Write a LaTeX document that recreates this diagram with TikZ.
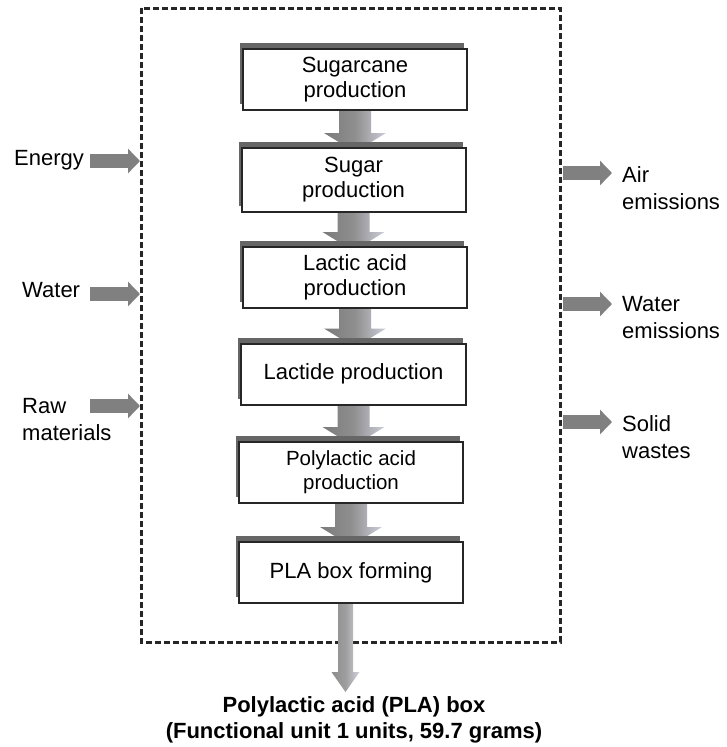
\documentclass[tikz,border=0pt]{standalone}
\usepackage{fontspec}
\setmainfont{Liberation Sans}
\usetikzlibrary{shadows,backgrounds,calc,arrows.meta}

\tikzset{
  stage/.style={draw=black!85, line width=2pt, fill=white,
    minimum width=224pt, minimum height=61pt, align=center, inner sep=2pt,
    font=\fontsize{22}{25}\selectfont,
    general shadow={fill=black!60, shadow xshift=-3pt, shadow yshift=6pt}},
  sidelabel/.style={align=left, inner sep=0pt, anchor=west,
    font=\fontsize{22}{27}\selectfont},
  sidearrow/.style={draw=black!50, line width=14pt,
    -{Triangle[width=24pt,length=12pt]}},
  frame/.style={draw=black!85, line width=3pt, dash pattern=on 6pt off 3pt},
  flowshade/.style={left color=black!52, right color={rgb,255:red,205;green,205;blue,218},
    middle color=black!44},
  outshade/.style={left color=black!45, right color={rgb,255:red,210;green,210;blue,222},
    middle color=black!38},
}

% thick shaded arrow from the bottom of one stage to the top of the next
\newcommand\flowarrow[2]{%
  \shade[flowshade] let \p1=(#1.south), \p2=(#2.north) in
    (\x1-16pt,\y1) -- (\x1+16pt,\y1) -- (\x1+16pt,\y2+14pt) -- (\x1+31pt,\y2+14pt)
    -- (\x1,\y2-5pt) -- (\x1-31pt,\y2+14pt) -- (\x1-16pt,\y2+14pt) -- cycle;}

\begin{document}
\begin{tikzpicture}[x=1pt,y=1pt]
\useasboundingbox (0,0) rectangle (726,-747);

% system boundary
\draw[frame] (141,-8) rectangle (560,-642);

% process stages
\node[stage] (cane)    at (355,-79.5)  {Sugarcane\\production};
\node[stage, minimum height=64pt] (sugar) at (353.5,-180) {Sugar\\production};
\node[stage] (lactic)  at (355,-277.5) {Lactic acid\\production};
\node[stage, minimum width=225pt] (lactide) at (353.5,-374) {Lactide production};
\node[stage, font=\fontsize{20.5}{24}\selectfont] (pla) at (351,-472.5) {Polylactic acid\\production};
\node[stage] (forming) at (351,-572.5) {PLA box forming};

\begin{pgfonlayer}{background}
  \flowarrow{cane}{sugar}
  \flowarrow{sugar}{lactic}
  \flowarrow{lactic}{lactide}
  \flowarrow{lactide}{pla}
  \flowarrow{pla}{forming}
\end{pgfonlayer}

% final product
\coordinate (product) at (345.5,-692);
\shade[outshade] let \p1=(forming.south), \p2=(product) in
  (\x2-7.5pt,\y1) -- (\x2+7.5pt,\y1) -- (\x2+7.5pt,\y2+20pt) -- (\x2+14pt,\y2+20pt)
  -- (\x2,\y2) -- (\x2-14pt,\y2+20pt) -- (\x2-7.5pt,\y2+20pt) -- cycle;
\node[font=\bfseries\fontsize{22}{26}\selectfont, align=center] (outtext) at (354,-720)
  {Polylactic acid (PLA) box\\(Functional unit 1 units, 59.7 grams)};

% inputs
\node[sidelabel] (energy) at (14,-160) {Energy};
\node[sidelabel] (water)  at (22,-290) {Water};
\node[sidelabel] (raw)    at (22,-420) {Raw\\materials};
\coordinate (energyA) at (90,-161);   \coordinate (energyB) at (140,-161);
\coordinate (waterA)  at (90,-294);   \coordinate (waterB)  at (140,-294);
\coordinate (rawA)    at (90,-406);   \coordinate (rawB)    at (140,-406);
\draw[sidearrow] (energyA) -- (energyB);
\draw[sidearrow] (waterA) -- (waterB);
\draw[sidearrow] (rawA) -- (rawB);

% outputs
\node[sidelabel] (air)   at (622,-188) {Air\\emissions};
\node[sidelabel] (wem)   at (622,-318) {Water\\emissions};
\node[sidelabel] (solid) at (622,-437) {Solid\\wastes};
\coordinate (airA)   at (563,-173); \coordinate (airB)   at (612,-173);
\coordinate (wemA)   at (563,-304); \coordinate (wemB)   at (612,-304);
\coordinate (solidA) at (563,-422); \coordinate (solidB) at (612,-422);
\draw[sidearrow] (airA) -- (airB);
\draw[sidearrow] (wemA) -- (wemB);
\draw[sidearrow] (solidA) -- (solidB);
\end{tikzpicture}
\end{document}
